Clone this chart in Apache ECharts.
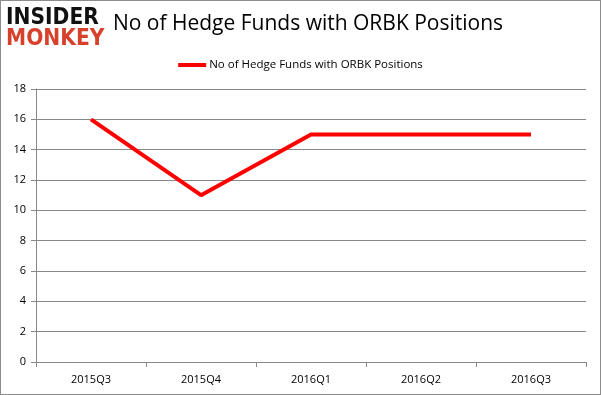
<!DOCTYPE html>
<html><head><meta charset="utf-8">
<script src="https://cdn.jsdelivr.net/npm/echarts@6/dist/echarts.min.js"></script>
<style>html,body{margin:0;padding:0;background:#fff}#c{width:601px;height:395px;box-sizing:border-box;border:1px solid #8c8c8c}</style>
</head><body><div id="c"></div>
<script>
const categories = ['2015Q3','2015Q4','2016Q1','2016Q2','2016Q3'];
const hedgeFunds = [16, 11, 15, 15, 15];
const seriesName = 'No of Hedge Funds with ORBK Positions';
const titleText = 'No of Hedge Funds with ORBK Positions';

const chart = echarts.init(document.getElementById('c'), null, {renderer:'canvas'});
chart.setOption({
  animation:false,
  backgroundColor:'#fff',
  title:{text:titleText,left:302,top:8,textAlign:'center',
    textStyle:{fontFamily:'Open Sans',fontSize:21,fontWeight:'normal',color:'#000'}},
  legend:{top:53,left:'center',itemWidth:28,itemHeight:4,itemGap:4,icon:'rect',
    textStyle:{fontFamily:'Open Sans',fontSize:11.5,color:'#000',padding:[0,0,0,-2]},
    data:[{name:seriesName}]},
  graphic:[
    {type:'text',left:5,top:6,z:100,scaleX:0.88,style:{text:'INSIDER',font:'900 23px "DejaVu Sans"',fill:'#111'}},
    {type:'text',left:5,top:27,z:100,scaleX:0.88,style:{text:'MONKEY',font:'900 23px "DejaVu Sans"',fill:'#d5412a'}}
  ],
  grid:{left:35,right:14,top:88,bottom:32,containLabel:false},
  xAxis:{type:'category',data:categories,boundaryGap:true,
    axisLine:{lineStyle:{color:'#888'}},
    axisTick:{show:true,alignWithLabel:false,length:5,lineStyle:{color:'#888'}},
    axisLabel:{color:'#000',fontFamily:'Open Sans',fontSize:11,margin:12}},
  yAxis:{type:'value',min:0,max:18,interval:2,
    axisLine:{show:true,lineStyle:{color:'#888'}},
    axisTick:{show:true,length:5,lineStyle:{color:'#888'}},
    splitLine:{lineStyle:{color:'#888'}},
    axisLabel:{color:'#000',fontFamily:'Open Sans',fontSize:11,margin:10}},
  series:[{name:seriesName,type:'line',data:hedgeFunds,showSymbol:false,symbol:'none',
    lineStyle:{color:'#ff0000',width:4},itemStyle:{color:'#ff0000'}}]
});
</script></body></html>
